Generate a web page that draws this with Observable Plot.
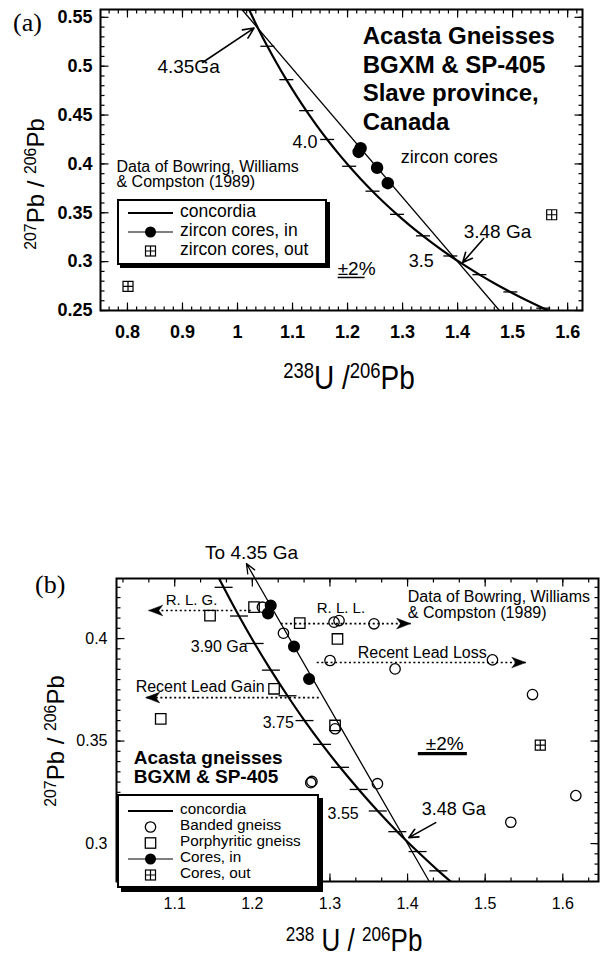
<!DOCTYPE html>
<html>
<head>
<meta charset="utf-8">
<script src="https://cdn.jsdelivr.net/npm/d3@7"></script>
<script src="https://cdn.jsdelivr.net/npm/@observablehq/plot@0.6"></script>
<style>
  html,body{margin:0;padding:0;background:#fff;}
  #wrap{position:relative;width:600px;height:957px;overflow:hidden;background:#fff;color:#000;font-family:"Liberation Sans",Arial,Helvetica,sans-serif;}
  .pl{position:absolute;left:0;}
  .ov{position:absolute;white-space:nowrap;line-height:1;}
  .ov sup{font-size:0.66em;vertical-align:0;position:relative;top:-0.48em;}
  .panel{font-family:"Liberation Serif","Times New Roman",serif;font-size:26px;}
</style>
</head>
<body>
<div id="wrap">
  <div id="plotA" class="pl" style="top:0"></div>
  <div id="plotB" class="pl" style="top:500px"></div>
</div>
<script>
// ---------------- data ----------------
// concordia curve: age (Ga), 238U/206Pb, 207Pb/206Pb
const concAge = [3.10,3.15,3.20,3.25,3.30,3.35,3.40,3.45,3.50,3.55,3.60,3.65,3.70,3.75,3.80,3.85,3.90,3.95,4.00,4.05,4.10,4.15,4.20,4.25,4.30,4.35,4.40,4.45,4.50];
const concX = [1.6194,1.5870,1.5557,1.5253,1.4959,1.4674,1.4397,1.4129,1.3868,1.3616,1.3370,1.3130,1.2898,1.2672,1.2453,1.2239,1.2030,1.1828,1.1630,1.1437,1.1249,1.1066,1.0888,1.0713,1.0543,1.0377,1.0216,1.0057,0.9902];
const concY = [0.2370,0.2446,0.2524,0.2605,0.2690,0.2777,0.2867,0.2961,0.3058,0.3159,0.3264,0.3372,0.3484,0.3600,0.3721,0.3846,0.3976,0.4110,0.4250,0.4395,0.4545,0.4701,0.4862,0.5030,0.5204,0.5384,0.5572,0.5766,0.5967];
const tickAgesA = [3.2,3.3,3.4,3.5,3.6,3.7,3.8,3.9,4.0,4.1,4.2,4.3,4.4];
const tickAgesB = [3.40,3.45,3.50,3.55,3.60,3.65,3.70,3.75,3.80,3.85,3.90,3.95,4.00,4.05];

// zircon cores
const coresInX = [1.2237,1.2202,1.2537,1.2731];
const coresInY = [0.4161,0.4123,0.3961,0.3803];
const coresOutX = [0.801,1.571];
const coresOutY = [0.2746,0.348];
// banded gneiss (open circles)
const bandedX = [1.213,1.2401,1.3053,1.3117,1.3568,1.3001,1.3839,1.3066,1.5094,1.561,1.2753,1.2768,1.3612,1.533,1.6168];
const bandedY = [0.4153,0.4026,0.408,0.4088,0.4072,0.3893,0.3852,0.356,0.3896,0.3727,0.3297,0.3303,0.3292,0.3104,0.3234];
// porphyritic gneiss (open squares)
const porphX = [1.2022,1.1455,1.2611,1.3097,1.228,1.082,1.3066];
const porphY = [0.4153,0.4112,0.4075,0.3998,0.3755,0.3608,0.3576];

// tick labels
const xTicksA = [0.8,0.9,1,1.1,1.2,1.3,1.4,1.5,1.6];
const yTicksA = [0.25,0.3,0.35,0.4,0.45,0.5,0.55];
const xTicksB = [1.1,1.2,1.3,1.4,1.5,1.6];
const yTicksB = [0.3,0.35,0.4];

// legend labels
const legendLabelsA = ["concordia", "zircon cores, in", "zircon cores, out"];
const legendLabelsB = ["concordia", "Banded gneiss", "Porphyritic gneiss", "Cores, in", "Cores, out"];

// discordia, arrows, error bars
const discA = [{x1:1.008,y1:0.558,x2:1.476,y2:0.25}];
const discB = [{x1:1.428,y1:0.2815,x2:1.1924,y2:0.4366}];
const arrowsA = [{x1:0.9365,y1:0.5038,x2:1.030,y2:0.5390},{x1:1.4474,y1:0.3237,x2:1.4092,y2:0.2991}];
const arrowsB = [{x1:1.4363,y1:0.3102,x2:1.4015,y2:0.3029}];
const leadArrowsB = [
  {x1:1.198,x2:1.0665,y:0.4137,dir:"left"},
  {x1:1.2366,x2:1.404,y:0.4073,dir:"right"},
  {x1:1.283,x2:1.5523,y:0.3883,dir:"right"},
  {x1:1.2856,x2:1.0626,y:0.3712,dir:"left"}
];
const errA = [{x1:1.182,x2:1.231,y:0.2838}];
const errB = [{x1:1.4132,x2:1.4764,y:0.3439}];

// text annotations
const notesA = [
  {text:"4.35Ga", x:0.911, y:0.499, anchor:"middle", size:19},
  {text:"4.0", x:1.1455, y:0.422, anchor:"end", size:18},
  {text:"3.5", x:1.3565, y:0.3002, anchor:"end", size:18},
  {text:"3.48 Ga", x:1.411, y:0.33, anchor:"start", size:19},
  {text:"zircon cores", x:1.2965, y:0.407, anchor:"start", size:18},
  {text:"±2%", x:1.182, y:0.293, anchor:"start", size:19},
  {text:"Data of Bowring, Williams\n& Compston (1989)", x:0.780, y:0.3887, anchor:"start", size:16, lh:0.95},
  {text:"Acasta Gneisses\nBGXM & SP-405\nSlave province,\nCanada", x:1.2274, y:0.488, anchor:"start", size:24, lh:1.19, bold:true}
];
const notesB = [
  {text:"To 4.35 Ga", x:1.199, y:0.442, anchor:"middle", size:19},
  {text:"R. L. G.", x:1.0884, y:0.4185, anchor:"start", size:15},
  {text:"R. L. L.", x:1.283, y:0.4146, anchor:"start", size:15},
  {text:"Recent Lead Loss", x:1.3358, y:0.3932, anchor:"start", size:16},
  {text:"Recent Lead Gain", x:1.0497, y:0.3766, anchor:"start", size:16},
  {text:"Data of Bowring, Williams\n& Compston (1989)", x:1.4003, y:0.4163, anchor:"start", size:16, lh:0.95},
  {text:"Acasta gneisses\nBGXM & SP-405", x:1.0472, y:0.3372, anchor:"start", size:19, lh:1.0, bold:true},
  {text:"3.48 Ga", x:1.4183, y:0.3166, anchor:"start", size:18},
  {text:"3.90 Ga", x:1.194, y:0.3961, anchor:"end", size:16},
  {text:"3.75", x:1.2534, y:0.3587, anchor:"end", size:16},
  {text:"3.55", x:1.3371, y:0.3146, anchor:"end", size:16},
  {text:"±2%", x:1.4235, y:0.3488, anchor:"start", size:19}
];

// ---------------- build ----------------
const font = '"Liberation Sans", Arial, Helvetica, sans-serif';
const conc = concAge.map((a, i) => ({age: a, x: concX[i], y: concY[i]}));
const near = (list) => d => list.some(t => Math.abs(t - d.age) < 1e-6);
const tickA = conc.filter(near(tickAgesA));
const tickB = conc.filter(near(tickAgesB));
const coresIn = coresInX.map((x, i) => ({x, y: coresInY[i]}));
const coresOut = coresOutX.map((x, i) => ({x, y: coresOutY[i]}));
const banded = bandedX.map((x, i) => ({x, y: bandedY[i]}));
const porph = porphX.map((x, i) => ({x, y: porphY[i]}));

// custom symbols
const mk = f => ({draw(c, size) { f(c, Math.sqrt(size / Math.PI)); }});
const tickUp = mk((c, r) => { c.moveTo(0, 0); c.lineTo(0, -r); });
const tickDown = mk((c, r) => { c.moveTo(0, 0); c.lineTo(0, r); });
const tickRight = mk((c, r) => { c.moveTo(0, 0); c.lineTo(r, 0); });
const tickLeft = mk((c, r) => { c.moveTo(0, 0); c.lineTo(-r, 0); });
const hline = mk((c, r) => { c.moveTo(-r, 0); c.lineTo(r, 0); });
const boxPlus = mk((c, r) => { c.rect(-r, -r, 2 * r, 2 * r); c.moveTo(-r, 0); c.lineTo(r, 0); c.moveTo(0, -r); c.lineTo(0, r); });
const headRight = mk((c, r) => { c.moveTo(0, 0); c.lineTo(-r, -0.38 * r); c.lineTo(-0.72 * r, 0); c.lineTo(-r, 0.38 * r); c.closePath(); });
const headLeft = mk((c, r) => { c.moveTo(0, 0); c.lineTo(r, -0.38 * r); c.lineTo(0.72 * r, 0); c.lineTo(r, 0.38 * r); c.closePath(); });

function frameTicks(xMajor, xMinor, yMajor, yMinor) {
  const o = {stroke: "black", fill: "none", strokeWidth: 1.2};
  const out = [];
  for (const [vals, len] of [[xMajor, 8], [xMinor, 4]]) {
    out.push(Plot.dot(vals, {x: d => d, frameAnchor: "bottom", symbol: tickUp, r: len, ...o}));
    out.push(Plot.dot(vals, {x: d => d, frameAnchor: "top", symbol: tickDown, r: len, ...o}));
  }
  for (const [vals, len] of [[yMajor, 8], [yMinor, 4]]) {
    out.push(Plot.dot(vals, {y: d => d, frameAnchor: "left", symbol: tickRight, r: len, ...o}));
    out.push(Plot.dot(vals, {y: d => d, frameAnchor: "right", symbol: tickLeft, r: len, ...o}));
  }
  return out;
}
const noteMarks = notes => notes.map(n => Plot.text([n], {
  x: "x", y: "y", text: "text", textAnchor: n.anchor, lineAnchor: "middle",
  fontSize: n.size, fontWeight: n.bold ? "bold" : "normal", lineHeight: n.lh || 1, fontFamily: font, fill: "black"
}));

// minor tick positions
const xMinorA = d3.range(-2, 50).map(k => 0.8 + k / 60);
const yMinorA = d3.range(0, 31).map(k => 0.25 + k * 0.01);
const xMinorB = d3.range(-2, 17).map(k => 1.1 + k / 30);
const yMinorB = d3.range(-3, 26).map(k => 0.3 + k * 0.005);

const plotA = Plot.plot({
  width: 600, height: 400,
  marginLeft: 100, marginRight: 18, marginTop: 9, marginBottom: 90,
  x: {domain: [0.751, 1.627], ticks: xTicksA, tickSize: 0, tickPadding: 15, tickFormat: d => String(d), label: null},
  y: {domain: [0.25, 0.558], ticks: yTicksA, tickSize: 0, tickPadding: 8, tickFormat: d => String(d), label: null},
  style: {fontFamily: font, fontSize: "18px", fontWeight: "bold", color: "black", background: "white", overflow: "visible"},
  marks: [
    Plot.line(conc, {x: "x", y: "y", curve: "catmull-rom", stroke: "black", strokeWidth: 2.2, clip: true}),
    Plot.dot(tickA, {x: "x", y: "y", symbol: hline, r: 7, stroke: "black", fill: "none", strokeWidth: 1.3, clip: true}),
    Plot.link(discA, {x1: "x1", y1: "y1", x2: "x2", y2: "y2", stroke: "black", strokeWidth: 1.3}),
    Plot.arrow(arrowsA, {x1: "x1", y1: "y1", x2: "x2", y2: "y2", stroke: "black", strokeWidth: 1.6, headLength: 11, headAngle: 50}),
    Plot.link(errA, {x1: "x1", x2: "x2", y1: "y", y2: "y", stroke: "black", strokeWidth: 1.5}),
    Plot.dot(coresIn, {x: "x", y: "y", r: 5.5, fill: "black", stroke: "black", clip: true}),
    Plot.dot(coresOut, {x: "x", y: "y", symbol: boxPlus, r: 5, fill: "none", stroke: "black", strokeWidth: 1.2, clip: true}),
    ...noteMarks(notesA),
    Plot.frame({stroke: "black", strokeWidth: 2}),
    ...frameTicks(xTicksA, xMinorA, yTicksA, yMinorA)
  ]
});
document.getElementById("plotA").appendChild(plotA);

const plotB = Plot.plot({
  width: 600, height: 457,
  marginLeft: 116, marginRight: 2, marginTop: 78, marginBottom: 76,
  x: {domain: [1.025, 1.646], ticks: xTicksB, tickSize: 0, tickPadding: 16, tickFormat: d => String(d), label: null},
  y: {domain: [0.2815, 0.4293], ticks: yTicksB, tickSize: 0, tickPadding: 9, tickFormat: d => String(d), label: null},
  style: {fontFamily: font, fontSize: "16px", fontWeight: "normal", color: "black", background: "white", overflow: "visible"},
  marks: [
    Plot.line(conc, {x: "x", y: "y", curve: "catmull-rom", stroke: "black", strokeWidth: 2.2, clip: true}),
    Plot.dot(tickB, {x: "x", y: "y", symbol: hline, r: 9, stroke: "black", fill: "none", strokeWidth: 1.3, clip: true}),
    Plot.arrow(discB, {x1: "x1", y1: "y1", x2: "x2", y2: "y2", stroke: "black", strokeWidth: 1.3, headLength: 12, headAngle: 45}),
    Plot.arrow(arrowsB, {x1: "x1", y1: "y1", x2: "x2", y2: "y2", stroke: "black", strokeWidth: 1.6, headLength: 11, headAngle: 50}),
    Plot.link(leadArrowsB, {x1: "x1", x2: "x2", y1: "y", y2: "y", stroke: "black", strokeWidth: 1.6, strokeDasharray: "2,2.6"}),
    Plot.dot(leadArrowsB.filter(d => d.dir === "right"), {x: "x2", y: "y", symbol: headRight, r: 14, fill: "black", stroke: "black", strokeWidth: 0.5}),
    Plot.dot(leadArrowsB.filter(d => d.dir === "left"), {x: "x2", y: "y", symbol: headLeft, r: 14, fill: "black", stroke: "black", strokeWidth: 0.5}),
    Plot.link(errB, {x1: "x1", x2: "x2", y1: "y", y2: "y", stroke: "black", strokeWidth: 3.2}),
    Plot.dot(banded, {x: "x", y: "y", r: 5.2, fill: "none", stroke: "black", strokeWidth: 1.3, clip: true}),
    Plot.dot(porph, {x: "x", y: "y", symbol: "square", r: 5.9, fill: "none", stroke: "black", strokeWidth: 1.3, clip: true}),
    Plot.dot(coresIn, {x: "x", y: "y", r: 5.3, fill: "black", stroke: "black", clip: true}),
    Plot.dot(coresOut, {x: "x", y: "y", symbol: boxPlus, r: 5, fill: "none", stroke: "black", strokeWidth: 1.2, clip: true}),
    ...noteMarks(notesB),
    Plot.frame({stroke: "black", strokeWidth: 2}),
    ...frameTicks(xTicksB, xMinorB, yTicksB, yMinorB)
  ]
});
document.getElementById("plotB").appendChild(plotB);

// ---------------- overlays: legends, axis titles, panel labels ----------------
const wrap = document.getElementById("wrap");
function swatch(kind) {
  let s = "";
  if (kind === "conc") s = '<line x1="0" x2="45" y1="8" y2="8" stroke="#000" stroke-width="2.2"/>';
  if (kind === "in") s = '<line x1="0" x2="45" y1="8" y2="8" stroke="#000" stroke-width="1.2"/><circle cx="22.5" cy="8" r="5.5" fill="#000"/>';
  if (kind === "out") s = '<rect x="17.5" y="3" width="10" height="10" fill="none" stroke="#000" stroke-width="1.2"/><path d="M17.5,8H27.5M22.5,3V13" stroke="#000" stroke-width="1.2"/>';
  if (kind === "circle") s = '<circle cx="22.5" cy="8" r="5.2" fill="none" stroke="#000" stroke-width="1.3"/>';
  if (kind === "square") s = '<rect x="17.3" y="2.8" width="10.4" height="10.4" fill="none" stroke="#000" stroke-width="1.3"/>';
  return `<svg width="46" height="16" style="position:absolute;overflow:visible">${s}</svg>`;
}
function addLegend(L) {
  const box = document.createElement("div");
  box.style.cssText = `position:absolute;left:${L.left}px;top:${L.top}px;width:${L.width}px;height:${L.height}px;box-sizing:border-box;border:2px solid #000;background:#fff;box-shadow:${L.shadow}px ${L.shadow}px 0 #000;`;
  const mid = ((L.lh - 1.117) / 2 + 0.905 - 0.26) * L.size;
  let html = "";
  L.rows.forEach((row, i) => {
    html += `<div style="position:absolute;left:${L.lineX - 2}px;top:${row - 8 - 2}px;">${swatch(L.kinds[i])}</div>`;
    html += `<div class="ov" style="left:${L.textX - 2}px;top:${row - 2 - mid}px;font-size:${L.size}px;line-height:${L.lh};">${L.labels[i]}</div>`;
  });
  box.innerHTML = html;
  wrap.appendChild(box);
}
addLegend({left: 117, top: 199, width: 210, height: 66, shadow: 3, size: 17.5, lh: 0.85, lineX: 11, textX: 63,
  rows: [14, 33, 52], kinds: ["conc", "in", "out"], labels: legendLabelsA});
addLegend({left: 117, top: 794, width: 202, height: 94, shadow: 4, size: 15.3, lh: 0.9, lineX: 11, textX: 63,
  rows: [16.5, 32.5, 48.5, 64.5, 80.5], kinds: ["conc", "circle", "square", "in", "out"], labels: legendLabelsB});

const titles = [
  {html: "<sup>238</sup>U /<sup>206</sup>Pb", x: 349, y: 378, size: 28, sy: 1.2, rot: 0},
  {html: "<sup>207</sup>Pb / <sup>206</sup>Pb", x: 36, y: 184, size: 24, sy: 1, rot: -90},
  {html: "<sup>238</sup> U / <sup>206</sup>Pb", x: 354, y: 940, size: 26, sy: 1.2, rot: 0},
  {html: "<sup>207</sup>Pb / <sup>206</sup>Pb", x: 56, y: 741, size: 24, sy: 1, rot: -90}
];
for (const t of titles) {
  const d = document.createElement("div");
  d.className = "ov";
  d.style.cssText += `left:${t.x}px;top:${t.y}px;font-size:${t.size}px;transform:translate(-50%,-50%) rotate(${t.rot}deg) scaleY(${t.sy});`;
  d.innerHTML = t.html;
  wrap.appendChild(d);
}
for (const p of [{t: "(a)", x: 13, y: 23}, {t: "(b)", x: 35, y: 585}]) {
  const d = document.createElement("div");
  d.className = "ov panel";
  d.style.cssText += `left:${p.x}px;top:${p.y}px;transform:translateY(-50%);`;
  d.textContent = p.t;
  wrap.appendChild(d);
}
</script>
</body>
</html>
